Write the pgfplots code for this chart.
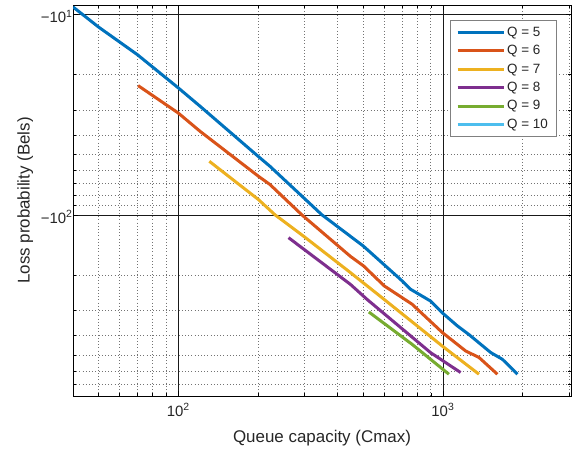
\documentclass[border=0pt]{standalone}
\usepackage{fontspec}
\setmainfont{Liberation Sans}
\usepackage{pgfplots}
\pgfplotsset{compat=1.18}
\definecolor{c1}{rgb}{0,0.447,0.741}
\definecolor{c2}{rgb}{0.85,0.325,0.098}
\definecolor{c3}{rgb}{0.929,0.694,0.125}
\definecolor{c4}{rgb}{0.494,0.184,0.556}
\definecolor{c5}{rgb}{0.466,0.674,0.188}
\definecolor{c6}{rgb}{0.301,0.745,0.933}
\definecolor{txt}{rgb}{0.15,0.15,0.15}
\begin{document}
\begin{tikzpicture}
\begin{axis}[name=ax, scale only axis, width=498bp, height=391bp,
  xmode=log, ymode=log, y dir=reverse,
  xmin=40, xmax=3050, ymin=9, ymax=800,
  xtick={100,1000}, xticklabels={10\textsuperscript{2},10\textsuperscript{3}},
  ytick={10,100}, yticklabels={−10\textsuperscript{1},−10\textsuperscript{2}},
  minor xtick={40,50,60,70,80,90,200,300,400,500,600,700,800,900,2000,3000},
  minor ytick={20,30,40,50,60,70,80,90,200,300,400,500,600,700,800},
  grid=both,
  major grid style={black!90, line width=0.6pt},
  minor grid style={black!55, line width=0.6pt, dash pattern=on 1bp off 2.2bp},
  tick align=inside, tick pos=both,
  major tick length=5bp, minor tick length=3bp,
  tick style={black, line width=0.5pt},
  axis line style={black, line width=0.7pt},
  xlabel={Queue capacity (Cmax)}, ylabel={Loss probability (Bels)},
  xlabel style={at={(axis description cs:0.5,-0.107)}, anchor=center},
  ylabel style={at={(axis description cs:-0.096,0.5)}, anchor=center},
  label style={font=\fontsize{17}{20}\selectfont, text=txt},
  tick label style={font=\fontsize{15}{17}\selectfont, text=txt},
  xticklabel style={yshift=-4bp},
  yticklabel style={xshift=3bp, yshift=-2bp},
  legend style={at={(1,1)}, anchor=north east, xshift=-15bp, yshift=-15bp,
    draw=black!50, fill=white, font=\fontsize{13.5}{16}\selectfont, text=txt,
    row sep=3.6bp, inner xsep=6bp, inner ysep=4.5bp},
  legend cell align=left,
  legend image code/.code={\draw[#1] (0bp,0bp) -- (46bp,0bp);},
  every axis plot/.append style={line width=3bp},
]
\addplot[c1] coordinates {(40,9.2) (50,11.6) (70,15.9) (100,23.3) (121,28.8) (200,51) (222,57.3) (349,100) (500,143) (692,210) (755,235) (898,269) (995,308) (1135,358) (1254,395) (1517,486) (1679,525) (1915,623)};
\addlegendentry{Q = 5}
\addplot[c2] coordinates {(70.5,22.7) (100,31.1) (121,38.4) (201,64.3) (222,70.6) (293,100) (447,161) (502,180) (600,226) (765,279) (995,386) (1219,477) (1369,514) (1607,623)};
\addlegendentry{Q = 6}
\addplot[c3] coordinates {(131,54.1) (201,84) (232,100) (298,128) (447,194) (589,259) (995,451) (1369,623)};
\addlegendentry{Q = 7}
\addplot[c4] coordinates {(261,130) (447,222) (517,264) (898,486) (1167,611)};
\addlegendentry{Q = 8}
\addplot[c5] coordinates {(525,305) (765,442) (1054,623)};
\addlegendentry{Q = 9}
\addlegendimage{c6, line width=3bp}
\addlegendentry{Q = 10}
\end{axis}
\pgfresetboundingbox
\path (ax.south west) ++(-73bp,-57bp) rectangle ++(578bp,453bp);
\end{tikzpicture}
\end{document}
